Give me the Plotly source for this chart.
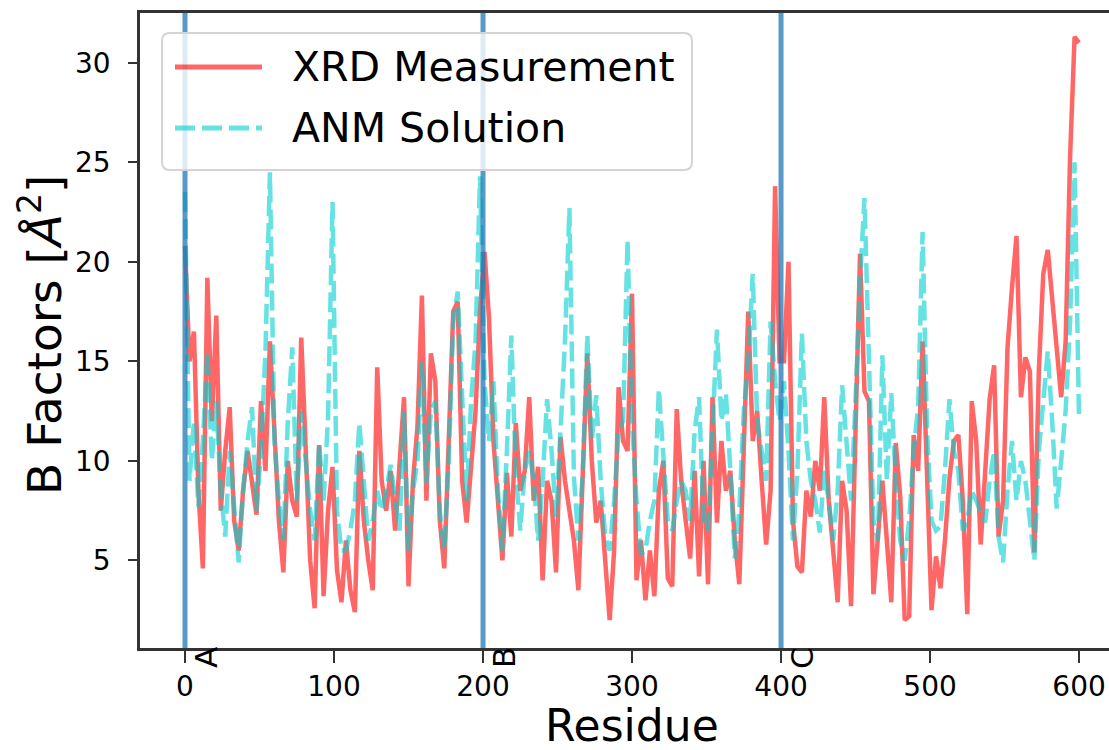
import plotly.graph_objects as go

# ---------------- data ----------------
step = 3
residues = list(range(0, 601, step))

xrd_b = [
    20.8, 15.0, 16.5, 8.5, 4.6, 19.2, 12.0, 17.3, 7.5, 10.5,
    12.7, 7.0, 5.5, 8.5, 10.5, 9.0, 7.3, 13.0, 9.5, 16.0,
    12.0, 7.0, 4.4, 10.0, 8.0, 7.2, 16.2, 10.0, 5.0, 2.6,
    10.8, 3.2, 7.5, 9.7, 4.5, 2.9, 6.0, 3.5, 2.4, 10.5,
    7.0, 5.0, 3.5, 14.7, 9.0, 7.5, 9.5, 6.5, 10.0, 13.2,
    3.7, 9.0, 11.7, 18.3, 8.0, 15.4, 14.0, 7.0, 4.6, 11.4,
    17.5, 18.0, 9.0, 6.9, 9.5, 12.5, 17.6, 20.5, 17.2, 11.0,
    8.0, 5.0, 9.4, 6.2, 11.9, 8.5, 9.5, 13.2, 8.0, 9.7,
    4.0, 9.0, 8.0, 4.4, 11.2, 9.0, 7.5, 6.0, 3.5, 9.0,
    15.4, 10.0, 6.9, 8.0, 4.7, 2.0, 5.5, 13.7, 11.0, 10.5,
    18.4, 4.0, 6.0, 3.0, 5.5, 3.2, 8.5, 10.0, 4.1, 3.7,
    12.6, 9.0, 7.0, 5.1, 9.5, 4.2, 10.0, 3.8, 13.2, 6.9,
    11.0, 8.5, 9.5, 6.0, 3.8, 10.9, 17.5, 11.0, 12.5, 9.0,
    5.8, 8.5, 23.8, 15.0, 15.0, 20.0, 7.0, 4.7, 4.4, 8.5,
    7.2, 10.0, 8.5, 13.2, 8.0, 5.5, 2.9, 9.0, 7.5, 2.7,
    12.0, 20.4, 13.5, 13.0, 3.3, 6.4, 9.0, 6.0, 2.9, 10.9,
    8.2, 2.0, 2.2, 11.3, 9.5, 16.0, 10.0, 2.5, 5.2, 3.6,
    6.0, 9.1, 11.0, 11.3, 8.0, 2.3, 13.0, 11.0, 5.8, 9.9,
    13.1, 14.8, 6.2, 8.0, 15.7, 18.7, 21.3, 13.2, 15.2, 14.5,
    5.4, 14.5, 19.4, 20.6, 18.0, 15.2, 13.2, 16.0, 25.3, 31.3,
    31.0,
]

anm_b = [
    23.5, 9.0, 12.0, 7.7, 11.0, 15.5, 10.0, 13.0, 8.5, 6.2,
    10.5, 7.5, 4.9, 8.5, 11.0, 12.7, 7.5, 10.5, 15.5, 24.5,
    11.0, 8.0, 6.0, 12.0, 15.7, 8.0, 12.5, 10.0, 7.5, 6.0,
    10.9, 8.0, 12.2, 23.0, 7.5, 5.5, 5.5, 6.5, 8.0, 11.9,
    9.0, 6.0, 7.0, 8.5, 7.5, 8.5, 9.8, 8.0, 6.5, 12.5,
    5.5, 8.5, 10.0, 15.0, 8.9, 12.5, 13.0, 7.5, 5.5, 10.0,
    17.0, 18.5, 13.0, 8.0, 13.0, 16.0, 24.3, 14.0, 11.0, 14.0,
    8.5, 5.5, 10.5, 16.3, 9.5, 6.5, 9.5, 10.5, 9.0, 6.0,
    9.0, 13.1, 10.5, 7.2, 11.5, 16.0, 22.7, 9.2, 6.0, 9.5,
    16.3, 11.0, 13.3, 9.0, 6.2, 5.5, 8.0, 11.5, 12.0, 21.1,
    12.0, 8.0, 5.3, 5.5, 7.0, 8.0, 13.6, 10.5, 7.0, 6.5,
    8.0, 9.0, 8.5, 7.0, 11.5, 13.2, 7.0, 6.5, 11.0, 16.6,
    12.0, 13.4, 9.5, 5.1, 7.5, 12.5, 15.0, 19.4, 12.0, 10.5,
    9.0, 17.0, 14.0, 12.0, 14.0, 10.5, 6.0, 9.5, 16.4, 11.0,
    9.0, 8.0, 6.4, 9.5, 8.0, 6.0, 8.5, 13.8, 11.0, 8.0,
    13.0, 19.0, 23.2, 14.0, 7.0, 6.0, 15.3, 9.0, 13.4, 9.0,
    6.0, 5.0, 7.0, 10.5, 12.7, 21.5, 11.5, 7.0, 6.5, 6.7,
    9.5, 13.1, 10.5, 9.5, 6.5, 7.0, 8.5, 8.0, 7.5, 6.9,
    9.0, 10.5, 6.2, 4.9, 8.5, 11.0, 8.0, 10.0, 9.0, 7.0,
    5.0, 10.5, 13.0, 15.5, 12.0, 7.6, 10.0, 12.5, 17.0, 25.0,
    12.0,
]

chain_starts = [0, 200, 400]
chain_labels = ["A", "B", "C"]
x_ticks = [0, 100, 200, 300, 400, 500, 600]
y_ticks = [5, 10, 15, 20, 25, 30]
series_names = ["XRD Measurement", "ANM Solution"]

# ---------------- styling ----------------
FONT = "DejaVu Sans"
W, H = 1109, 750
ML, MR, MT, MB = 140, 0, 13, 102
PW, PH = W - ML - MR, H - MT - MB
RED = "rgba(255,0,0,0.6)"
CYAN = "rgba(0,206,209,0.6)"
BLUE = "rgba(31,119,180,0.75)"
AX = "#333333"
CYAN_DASH = "20px,7px"
LW = 4.5


def px2paper_x(px):
    return (px - ML) / PW


def px2paper_y(py):
    return (H - MB - py) / PH


fig = go.Figure()
fig.add_trace(go.Scatter(x=residues, y=xrd_b, mode="lines", name=series_names[0],
                         line=dict(color=RED, width=LW), showlegend=False))
fig.add_trace(go.Scatter(x=residues, y=anm_b, mode="lines", name=series_names[1],
                         line=dict(color=CYAN, width=LW, dash=CYAN_DASH), showlegend=False))

shapes = []
annotations = []
for xs, lab in zip(chain_starts, chain_labels):
    shapes.append(dict(type="line", xref="x", yref="paper", x0=xs, x1=xs, y0=0, y1=1,
                       line=dict(color=BLUE, width=5), layer="above"))
    annotations.append(dict(x=xs, xref="x", y=0, yref="paper", text=lab, textangle=-90,
                            showarrow=False, xanchor="left", yanchor="middle", yshift=-10,
                            xshift=1, font=dict(family=FONT, size=31, color="black")))

# legend box (rounded)
lx0, lx1 = px2paper_x(162), px2paper_x(692)
ly0, ly1 = px2paper_y(170), px2paper_y(33)
rx, ry = 8 / PW, 8 / PH
path = (f"M {lx0+rx},{ly0} L {lx1-rx},{ly0} Q {lx1},{ly0} {lx1},{ly0+ry} "
        f"L {lx1},{ly1-ry} Q {lx1},{ly1} {lx1-rx},{ly1} L {lx0+rx},{ly1} "
        f"Q {lx0},{ly1} {lx0},{ly1-ry} L {lx0},{ly0+ry} Q {lx0},{ly0} {lx0+rx},{ly0} Z")
shapes.append(dict(type="path", xref="paper", yref="paper", path=path,
                   fillcolor="rgba(255,255,255,0.8)", line=dict(color="#d4d4d4", width=2),
                   layer="above"))
for name, color, dash, py in [(series_names[0], RED, "solid", 67),
                              (series_names[1], CYAN, CYAN_DASH, 128)]:
    shapes.append(dict(type="line", xref="paper", yref="paper",
                       x0=px2paper_x(175), x1=px2paper_x(262),
                       y0=px2paper_y(py), y1=px2paper_y(py),
                       line=dict(color=color, width=5, dash=dash), layer="above"))
    annotations.append(dict(x=px2paper_x(290), y=px2paper_y(py), xref="paper", yref="paper",
                            text=name, showarrow=False, xanchor="left", yanchor="middle",
                            font=dict(family=FONT, size=41, color="black")))

# axis titles
annotations.append(dict(x=px2paper_x(632), y=px2paper_y(725), xref="paper", yref="paper",
                        text="Residue", showarrow=False, xanchor="center", yanchor="middle",
                        font=dict(family=FONT, size=44, color="black")))
annotations.append(dict(x=px2paper_x(41), y=px2paper_y(335), xref="paper", yref="paper",
                        text="B Factors [<i>Å</i><sup>2</sup>]", textangle=-90,
                        showarrow=False, xanchor="center", yanchor="middle",
                        font=dict(family=FONT, size=47, color="black")))

fig.update_layout(
    width=W, height=H,
    margin=dict(l=ML, r=MR, t=MT, b=MB, pad=0, autoexpand=False),
    paper_bgcolor="white", plot_bgcolor="white",
    font=dict(family=FONT, size=28, color="black"),
    shapes=shapes, annotations=annotations, showlegend=False,
)
fig.update_xaxes(range=[-30.2, 620.1], tickvals=x_ticks, ticks="outside", ticklen=12,
                 tickwidth=2, tickcolor=AX, showline=True, linecolor=AX, linewidth=2.5,
                 mirror=True, showgrid=False, zeroline=False, automargin=False,
                 tickfont=dict(family=FONT, size=28, color="black"))
fig.update_yaxes(range=[0.6, 32.5], tickvals=y_ticks, ticks="outside", ticklen=9,
                 tickwidth=2, tickcolor=AX, showline=True, linecolor=AX, linewidth=2.5,
                 mirror=False, showgrid=False, zeroline=False, automargin=False,
                 ticklabelstandoff=12,
                 tickfont=dict(family=FONT, size=28, color="black"))

fig.write_html("out.html", config={"displayModeBar": False},
               post_script="document.body.style.margin='0px';")
